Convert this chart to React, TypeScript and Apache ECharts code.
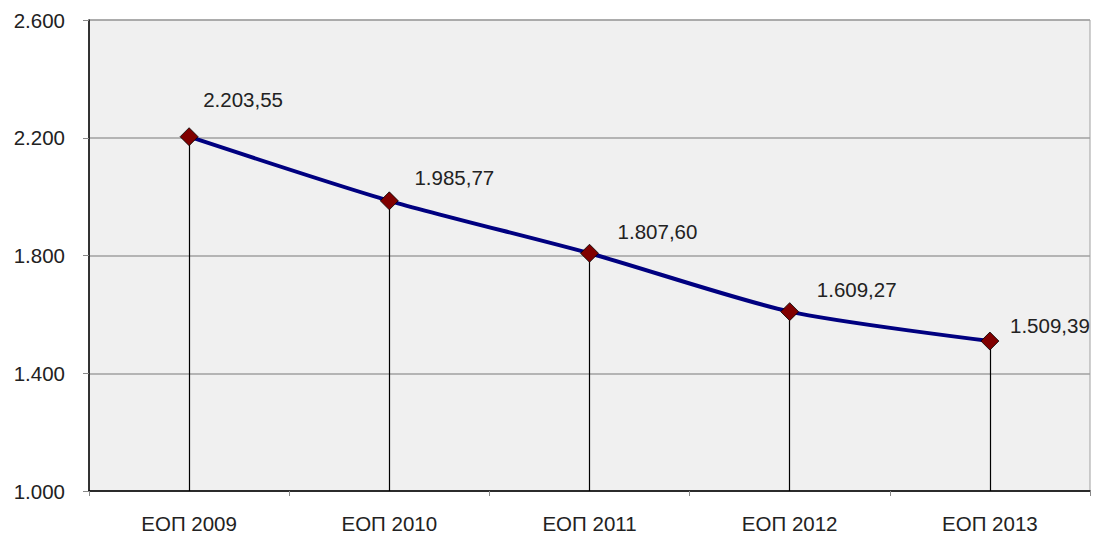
import React, { useEffect, useRef } from "react";
import * as echarts from "echarts";

const categories = ["ЕОП 2009", "ЕОП 2010", "ЕОП 2011", "ЕОП 2012", "ЕОП 2013"];
const values = [2203.55, 1985.77, 1807.6, 1609.27, 1509.39];
const yMin = 1000;
const yMax = 2600;
const yInterval = 400;

const labelOffsets = [
  [54, -37],
  [65, -23],
  [68, -22],
  [67, -22],
  [60, -16],
];

function fmtThousands(v: number, decimals: number) {
  const fixed = v.toFixed(decimals);
  const [intPart, dec] = fixed.split(".");
  const withDots = intPart.replace(/\B(?=(\d{3})+(?!\d))/g, ".");
  return dec ? withDots + "," + dec : withDots;
}

export default function App() {
  const ref = useRef<HTMLDivElement>(null);
  useEffect(() => {
    if (!ref.current) return;
    const chart = echarts.init(ref.current, undefined, { renderer: "svg" });
    const font = "'Liberation Sans', Arial, sans-serif";
    chart.setOption({
      animation: false,
      backgroundColor: "#ffffff",
      textStyle: { fontFamily: font },
      grid: {
        left: 89,
        right: 4,
        top: 20,
        bottom: 49,
        show: true,
        backgroundColor: "#f0f0f0",
        borderColor: "#a0a0a0",
        borderWidth: 1,
      },
      xAxis: {
        type: "category",
        data: categories,
        boundaryGap: true,
        axisLine: { lineStyle: { color: "#000", width: 1.5 } },
        axisTick: { show: true, length: 5, lineStyle: { color: "#888" } },
        axisLabel: { color: "#222", fontSize: 20.5, margin: 22, fontFamily: font },
        splitLine: { show: false },
      },
      yAxis: {
        type: "value",
        min: yMin,
        max: yMax,
        interval: yInterval,
        axisLine: { show: true, lineStyle: { color: "#000", width: 1.5 } },
        axisTick: { show: true, length: 6, lineStyle: { color: "#888" } },
        axisLabel: {
          color: "#222",
          fontSize: 20.5,
          margin: 24,
          fontFamily: font,
          formatter: (v: number) => fmtThousands(v, 0),
        },
        splitLine: { show: true, lineStyle: { color: "#a0a0a0", width: 1.5 } },
      },
      series: [
        {
          type: "line",
          data: values.map((v, i) => ({
            value: v,
            label: { offset: labelOffsets[i] },
          })),
          smooth: 0.25,
          lineStyle: { color: "#000080", width: 4 },
          symbol: "diamond",
          symbolSize: 18,
          itemStyle: { color: "#800000", borderColor: "#000", borderWidth: 0.8 },
          label: {
            show: true,
            position: "inside",
            color: "#222",
            fontSize: 20.5,
            fontFamily: font,
            formatter: (p: any) => fmtThousands(p.value, 2),
          },
          z: 3,
          markLine: {
            silent: true,
            symbol: "none",
            label: { show: false },
            lineStyle: { color: "#000", width: 1.2, type: "solid" },
            z: 1,
            data: values.map((v, i) => [
              { coord: [i, yMin] },
              { coord: [i, v] },
            ]),
          },
        },
      ],
    });
    return () => chart.dispose();
  }, []);
  return (
    <div
      ref={ref}
      style={{ position: "fixed", left: 0, top: 0, width: 1094, height: 540 }}
    />
  );
}
